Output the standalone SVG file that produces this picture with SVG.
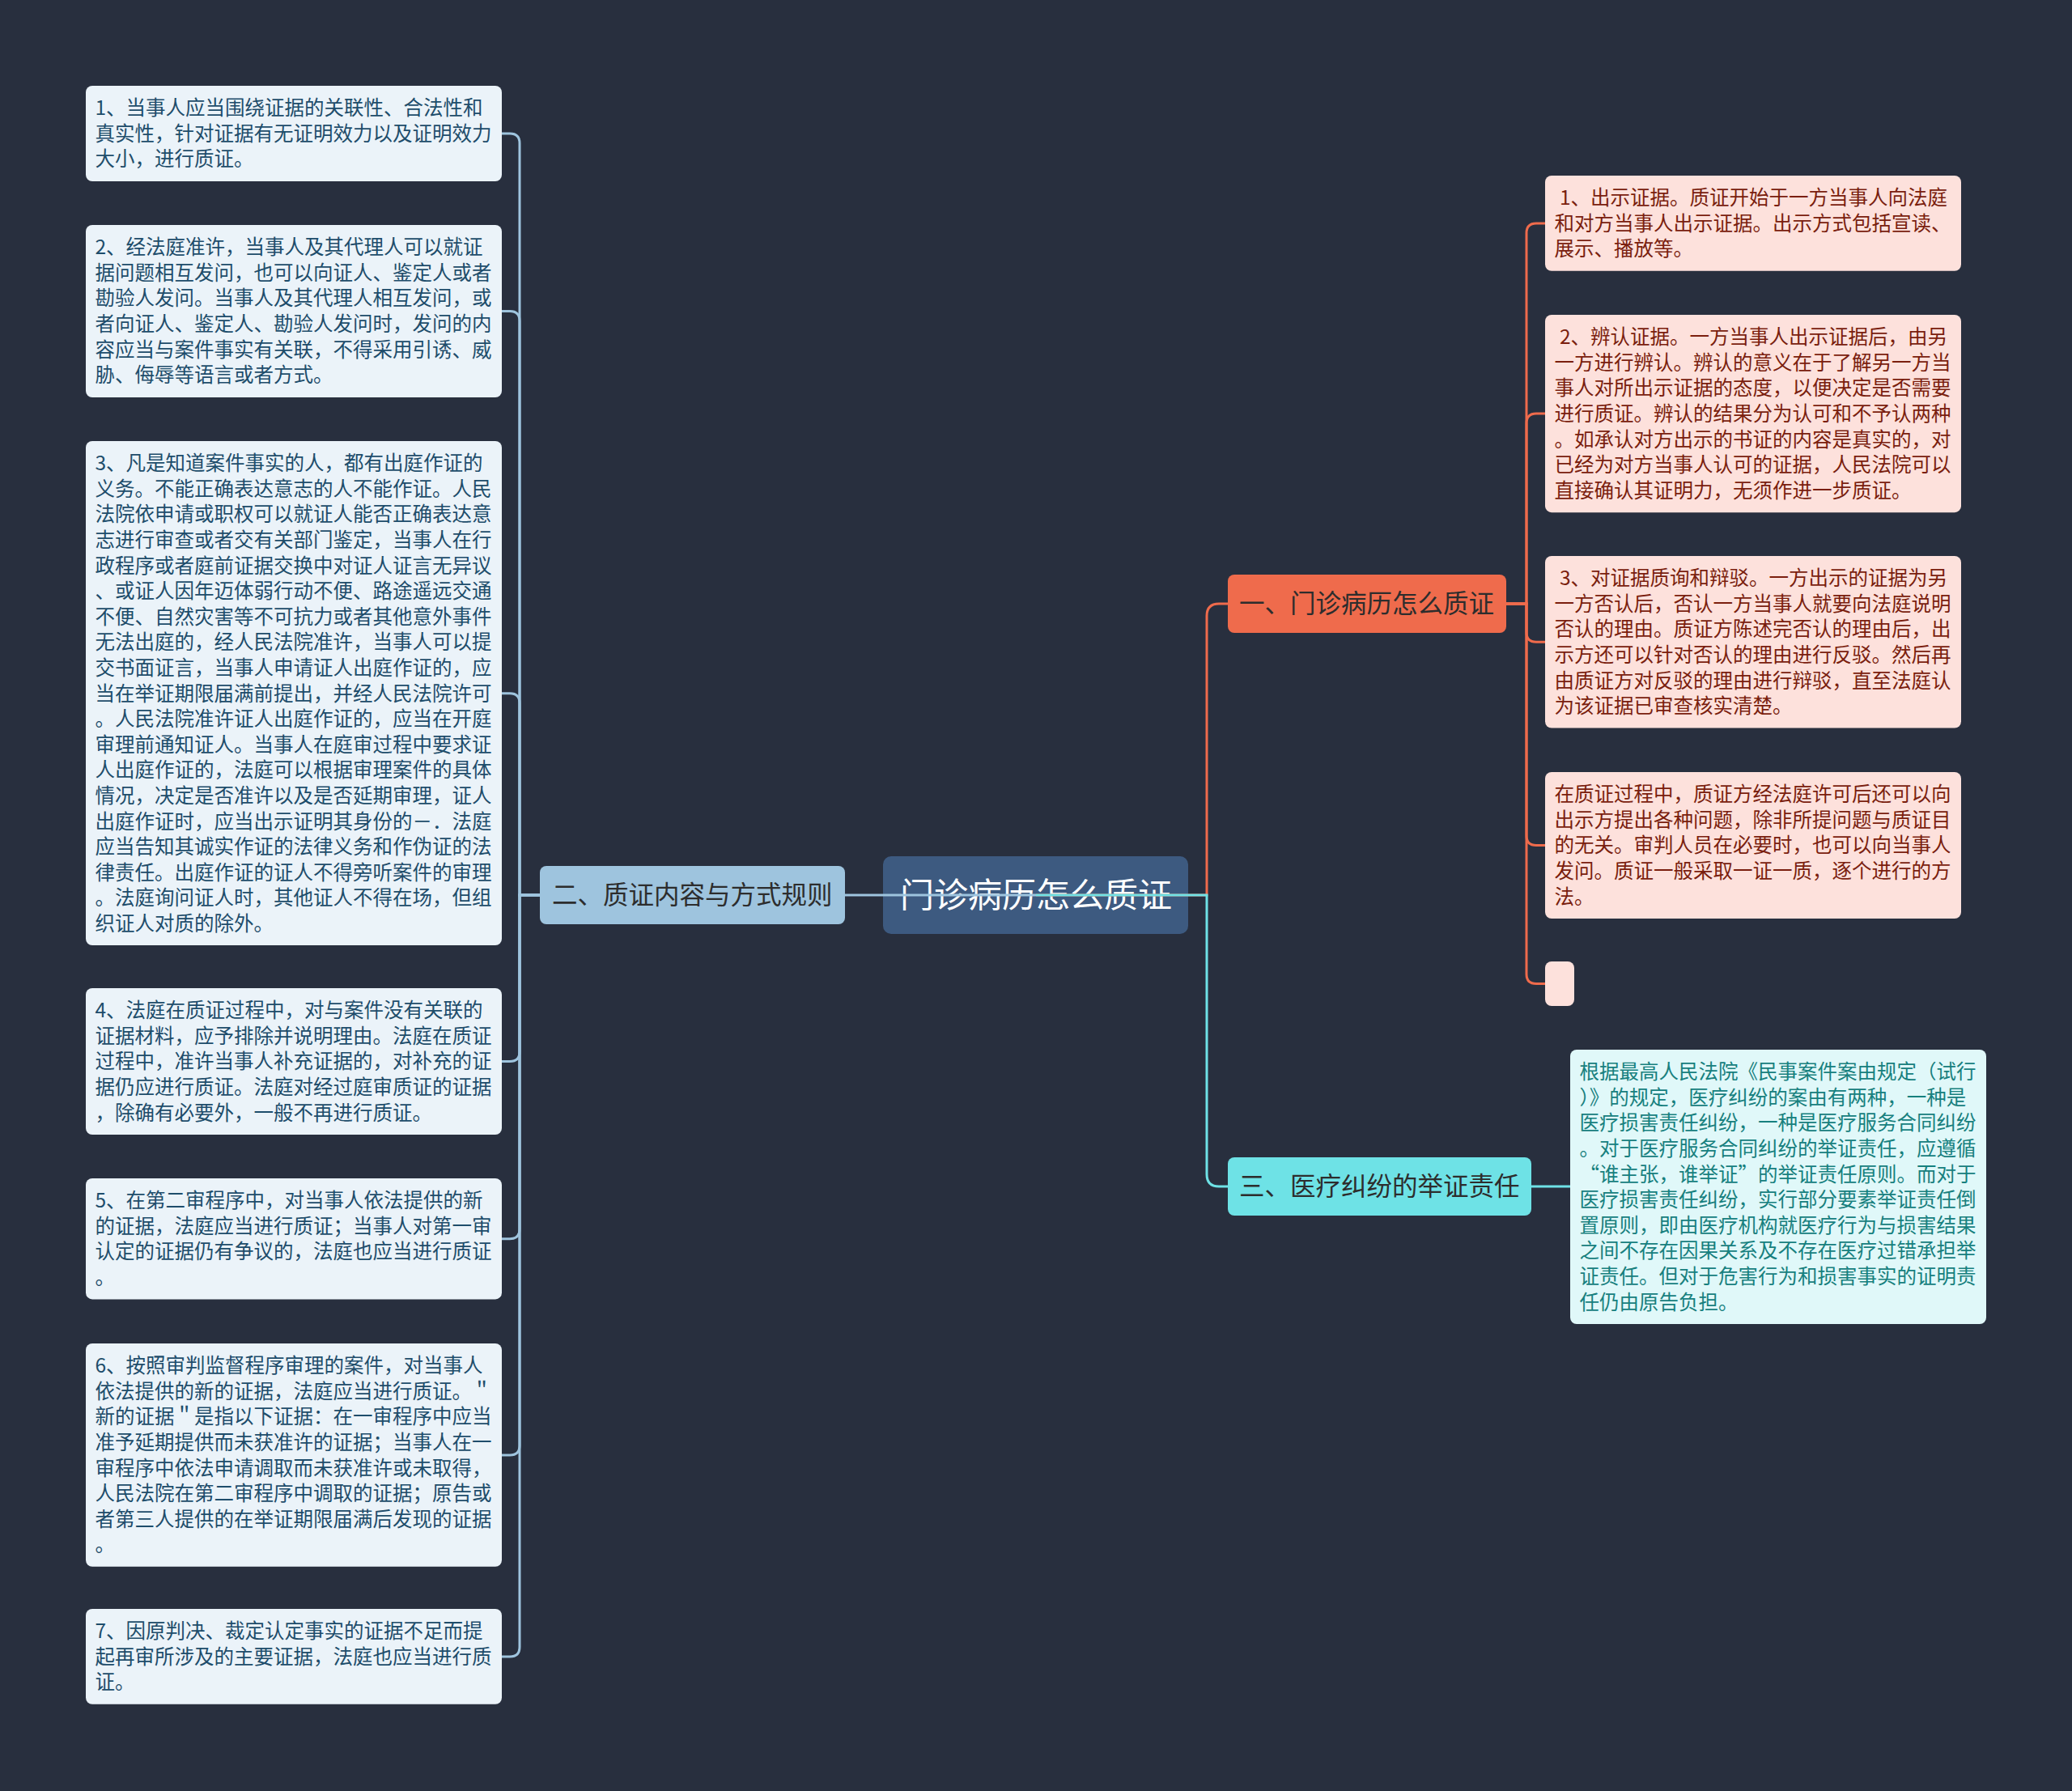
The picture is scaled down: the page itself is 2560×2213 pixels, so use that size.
<svg xmlns="http://www.w3.org/2000/svg" width="2560" height="2213" viewBox="0 0 2560 2213">
<style>
text{font-family:'Noto Sans CJK SC','Noto Sans',sans-serif}
.lc{fill:#ebf3f9}
.lt{fill:#1e4d6b;font-size:24.5px}
.oc{fill:#fde1dc}
.ot{fill:#7a1e0e;font-size:24.5px}
.cc{fill:#e0f8f9}
.ct{fill:#17807e;font-size:24.5px}
.bt{fill:#2d2d2d;font-size:31.5px}
.ln{fill:none;stroke-width:3}
</style>
<rect width="2560" height="2213" fill="#282f3e"/>
<g id="root"><rect x="1091" y="1058" width="377" height="96" rx="10" fill="#3d5a80"/><text x="1112" y="1121" font-size="42" fill="#ffffff">门诊病历怎么质证</text></g>
<g id="b1"><rect x="1517" y="710" width="344" height="72" rx="8" fill="#ef6b4c"/><text class="bt" x="1531" y="757.3">一、门诊病历怎么质证</text></g>
<g id="b2"><rect x="667" y="1070" width="377" height="72" rx="8" fill="#9ec4de"/><text class="bt" x="682" y="1117.3">二、质证内容与方式规则</text></g>
<g id="b3"><rect x="1517" y="1430" width="375" height="72" rx="8" fill="#6ee2e6"/><text class="bt" x="1531" y="1477.3">三、医疗纠纷的举证责任</text></g>

<g id="l1"><rect class="lc" x="106" y="106" width="514" height="118" rx="8"/><text class="lt" x="117.5" y="142.1"><tspan x="117.5">1、当事人应当围绕证据的关联性、合法性和</tspan><tspan x="117.5" dy="31.6">真实性，针对证据有无证明效力以及证明效力</tspan><tspan x="117.5" dy="31.6">大小，进行质证。</tspan></text></g>
<g id="l2"><rect class="lc" x="106" y="278" width="514" height="213" rx="8"/><text class="lt" x="117.5" y="314.1"><tspan x="117.5">2、经法庭准许，当事人及其代理人可以就证</tspan><tspan x="117.5" dy="31.6">据问题相互发问，也可以向证人、鉴定人或者</tspan><tspan x="117.5" dy="31.6">勘验人发问。当事人及其代理人相互发问，或</tspan><tspan x="117.5" dy="31.6">者向证人、鉴定人、勘验人发问时，发问的内</tspan><tspan x="117.5" dy="31.6">容应当与案件事实有关联，不得采用引诱、威</tspan><tspan x="117.5" dy="31.6">胁、侮辱等语言或者方式。</tspan></text></g>
<g id="l3"><rect class="lc" x="106" y="545" width="514" height="623" rx="8"/><text class="lt" x="117.5" y="581.1"><tspan x="117.5">3、凡是知道案件事实的人，都有出庭作证的</tspan><tspan x="117.5" dy="31.6">义务。不能正确表达意志的人不能作证。人民</tspan><tspan x="117.5" dy="31.6">法院依申请或职权可以就证人能否正确表达意</tspan><tspan x="117.5" dy="31.6">志进行审查或者交有关部门鉴定，当事人在行</tspan><tspan x="117.5" dy="31.6">政程序或者庭前证据交换中对证人证言无异议</tspan><tspan x="117.5" dy="31.6">、或证人因年迈体弱行动不便、路途遥远交通</tspan><tspan x="117.5" dy="31.6">不便、自然灾害等不可抗力或者其他意外事件</tspan><tspan x="117.5" dy="31.6">无法出庭的，经人民法院准许，当事人可以提</tspan><tspan x="117.5" dy="31.6">交书面证言，当事人申请证人出庭作证的，应</tspan><tspan x="117.5" dy="31.6">当在举证期限届满前提出，并经人民法院许可</tspan><tspan x="117.5" dy="31.6">。人民法院准许证人出庭作证的，应当在开庭</tspan><tspan x="117.5" dy="31.6">审理前通知证人。当事人在庭审过程中要求证</tspan><tspan x="117.5" dy="31.6">人出庭作证的，法庭可以根据审理案件的具体</tspan><tspan x="117.5" dy="31.6">情况，决定是否准许以及是否延期审理，证人</tspan><tspan x="117.5" dy="31.6">出庭作证时，应当出示证明其身份的－．法庭</tspan><tspan x="117.5" dy="31.6">应当告知其诚实作证的法律义务和作伪证的法</tspan><tspan x="117.5" dy="31.6">律责任。出庭作证的证人不得旁听案件的审理</tspan><tspan x="117.5" dy="31.6">。法庭询问证人时，其他证人不得在场，但组</tspan><tspan x="117.5" dy="31.6">织证人对质的除外。</tspan></text></g>
<g id="l4"><rect class="lc" x="106" y="1221" width="514" height="181" rx="8"/><text class="lt" x="117.5" y="1257.1"><tspan x="117.5">4、法庭在质证过程中，对与案件没有关联的</tspan><tspan x="117.5" dy="31.6">证据材料，应予排除并说明理由。法庭在质证</tspan><tspan x="117.5" dy="31.6">过程中，准许当事人补充证据的，对补充的证</tspan><tspan x="117.5" dy="31.6">据仍应进行质证。法庭对经过庭审质证的证据</tspan><tspan x="117.5" dy="31.6">，除确有必要外，一般不再进行质证。</tspan></text></g>
<g id="l5"><rect class="lc" x="106" y="1456" width="514" height="149.4" rx="8"/><text class="lt" x="117.5" y="1492.1"><tspan x="117.5">5、在第二审程序中，对当事人依法提供的新</tspan><tspan x="117.5" dy="31.6">的证据，法庭应当进行质证；当事人对第一审</tspan><tspan x="117.5" dy="31.6">认定的证据仍有争议的，法庭也应当进行质证</tspan><tspan x="117.5" dy="31.6">。</tspan></text></g>
<g id="l6"><rect class="lc" x="106" y="1660" width="514" height="275.8" rx="8"/><text class="lt" x="117.5" y="1696.1"><tspan x="117.5">6、按照审判监督程序审理的案件，对当事人</tspan><tspan x="117.5" dy="31.6">依法提供的新的证据，法庭应当进行质证。＂</tspan><tspan x="117.5" dy="31.6">新的证据＂是指以下证据：在一审程序中应当</tspan><tspan x="117.5" dy="31.6">准予延期提供而未获准许的证据；当事人在一</tspan><tspan x="117.5" dy="31.6">审程序中依法申请调取而未获准许或未取得，</tspan><tspan x="117.5" dy="31.6">人民法院在第二审程序中调取的证据；原告或</tspan><tspan x="117.5" dy="31.6">者第三人提供的在举证期限届满后发现的证据</tspan><tspan x="117.5" dy="31.6">。</tspan></text></g>
<g id="l7"><rect class="lc" x="106" y="1988" width="514" height="117.8" rx="8"/><text class="lt" x="117.5" y="2024.1"><tspan x="117.5">7、因原判决、裁定认定事实的证据不足而提</tspan><tspan x="117.5" dy="31.6">起再审所涉及的主要证据，法庭也应当进行质</tspan><tspan x="117.5" dy="31.6">证。</tspan></text></g>

<g id="r1"><rect class="oc" x="1909" y="217" width="514" height="117.8" rx="8"/><text class="ot" x="1920.5" y="253.1"><tspan x="1927">1、出示证据。质证开始于一方当事人向法庭</tspan><tspan x="1920.5" dy="31.6">和对方当事人出示证据。出示方式包括宣读、</tspan><tspan x="1920.5" dy="31.6">展示、播放等。</tspan></text></g>
<g id="r2"><rect class="oc" x="1909" y="389" width="514" height="244.2" rx="8"/><text class="ot" x="1920.5" y="425.1"><tspan x="1927">2、辨认证据。一方当事人出示证据后，由另</tspan><tspan x="1920.5" dy="31.6">一方进行辨认。辨认的意义在于了解另一方当</tspan><tspan x="1920.5" dy="31.6">事人对所出示证据的态度，以便决定是否需要</tspan><tspan x="1920.5" dy="31.6">进行质证。辨认的结果分为认可和不予认两种</tspan><tspan x="1920.5" dy="31.6">。如承认对方出示的书证的内容是真实的，对</tspan><tspan x="1920.5" dy="31.6">已经为对方当事人认可的证据，人民法院可以</tspan><tspan x="1920.5" dy="31.6">直接确认其证明力，无须作进一步质证。</tspan></text></g>
<g id="r3"><rect class="oc" x="1909" y="687" width="514" height="212.6" rx="8"/><text class="ot" x="1920.5" y="723.1"><tspan x="1927">3、对证据质询和辩驳。一方出示的证据为另</tspan><tspan x="1920.5" dy="31.6">一方否认后，否认一方当事人就要向法庭说明</tspan><tspan x="1920.5" dy="31.6">否认的理由。质证方陈述完否认的理由后，出</tspan><tspan x="1920.5" dy="31.6">示方还可以针对否认的理由进行反驳。然后再</tspan><tspan x="1920.5" dy="31.6">由质证方对反驳的理由进行辩驳，直至法庭认</tspan><tspan x="1920.5" dy="31.6">为该证据已审查核实清楚。</tspan></text></g>
<g id="r4"><rect class="oc" x="1909" y="954" width="514" height="181" rx="8"/><text class="ot" x="1920.5" y="990.1"><tspan x="1920.5">在质证过程中，质证方经法庭许可后还可以向</tspan><tspan x="1920.5" dy="31.6">出示方提出各种问题，除非所提问题与质证目</tspan><tspan x="1920.5" dy="31.6">的无关。审判人员在必要时，也可以向当事人</tspan><tspan x="1920.5" dy="31.6">发问。质证一般采取一证一质，逐个进行的方</tspan><tspan x="1920.5" dy="31.6">法。</tspan></text></g>
<g id="r5"><rect class="oc" x="1909" y="1188" width="36" height="55" rx="8"/></g>
<g id="c1"><rect class="cc" x="1940" y="1297" width="514" height="339" rx="8"/><text class="ct" x="1951.5" y="1333.1"><tspan x="1951.5">根据最高人民法院《民事案件案由规定（试行</tspan><tspan x="1951.5" dy="31.6">）》的规定，医疗纠纷的案由有两种，一种是</tspan><tspan x="1951.5" dy="31.6">医疗损害责任纠纷，一种是医疗服务合同纠纷</tspan><tspan x="1951.5" dy="31.6">。对于医疗服务合同纠纷的举证责任，应遵循</tspan><tspan x="1951.5" dy="31.6">“谁主张，谁举证”的举证责任原则。而对于</tspan><tspan x="1951.5" dy="31.6">医疗损害责任纠纷，实行部分要素举证责任倒</tspan><tspan x="1951.5" dy="31.6">置原则，即由医疗机构就医疗行为与损害结果</tspan><tspan x="1951.5" dy="31.6">之间不存在因果关系及不存在医疗过错承担举</tspan><tspan x="1951.5" dy="31.6">证责任。但对于危害行为和损害事实的证明责</tspan><tspan x="1951.5" dy="31.6">任仍由原告负担。</tspan></text></g>

<g id="connectors">
<path class="ln" stroke="#ef6b4c" d="M1280 1106 H1491 V761 Q1491 746 1506 746 H1517"/>
<path class="ln" stroke="#6ee2e6" d="M1280 1106 H1491 V1451 Q1491 1466 1506 1466 H1517"/>
<path class="ln" stroke="#9ec4de" d="M1280 1106 H1044"/>
<path class="ln" stroke="#6ee2e6" d="M1892 1466 H1940"/>
<g stroke="#9ec4de" class="ln" fill="none">
<path d="M667 1106 H642 V177 Q642 165 630 165 H620"/>
<path d="M667 1106 H642 V396.5 Q642 384.5 630 384.5 H620"/>
<path d="M667 1106 H642 V868.7 Q642 856.7 630 856.7 H620"/>
<path d="M667 1106 H642 V1299.5 Q642 1311.5 630 1311.5 H620"/>
<path d="M667 1106 H642 V1518.7 Q642 1530.7 630 1530.7 H620"/>
<path d="M667 1106 H642 V1785.9 Q642 1797.9 630 1797.9 H620"/>
<path d="M667 1106 H642 V2034.9 Q642 2046.9 630 2046.9 H620"/>
</g>
<g stroke="#ef6b4c" class="ln" fill="none">
<path d="M1861 746 H1886 V287.9 Q1886 275.9 1898 275.9 H1909"/>
<path d="M1861 746 H1886 V523.1 Q1886 511.1 1898 511.1 H1909"/>
<path d="M1861 746 H1886 V781.3 Q1886 793.3 1898 793.3 H1909"/>
<path d="M1861 746 H1886 V1032.5 Q1886 1044.5 1898 1044.5 H1909"/>
<path d="M1861 746 H1886 V1203.5 Q1886 1215.5 1898 1215.5 H1909"/>
</g>
</g>
</svg>
